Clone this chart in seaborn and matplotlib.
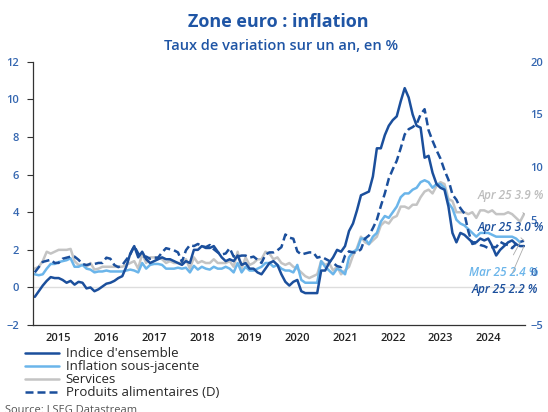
import numpy as np
import pandas as pd
import matplotlib.pyplot as plt
from matplotlib.lines import Line2D
import seaborn as sns

# Données mensuelles, janv. 2015 -> avr. 2025 (glissement annuel, %)
headline = [
    -0.5, -0.2, 0.1, 0.35, 0.55, 0.5, 0.5, 0.4, 0.25, 0.35, 0.15, 0.3,
    0.25, -0.05, 0.0, -0.2, -0.1, 0.05, 0.2, 0.25, 0.35, 0.5, 0.6, 1.1,
    1.8, 2.2, 1.6, 1.9, 1.5, 1.3, 1.4, 1.5, 1.6, 1.5, 1.5, 1.4,
    1.3, 1.2, 1.4, 1.3, 2.0, 2.0, 2.2, 2.1, 2.1, 2.2, 1.9, 1.6,
    1.4, 1.5, 1.4, 1.7, 1.2, 1.3, 1.0, 1.0, 0.8, 0.7, 1.0, 1.3,
    1.4, 1.2, 0.7, 0.3, 0.1, 0.3, 0.4, -0.2, -0.3, -0.3, -0.3, -0.3,
    0.9, 0.9, 1.3, 1.6, 2.0, 1.9, 2.2, 3.0, 3.4, 4.1, 4.9, 5.0,
    5.1, 5.9, 7.4, 7.4, 8.1, 8.6, 8.9, 9.1, 9.9, 10.6, 10.1, 9.2,
    8.6, 8.5, 6.9, 7.0, 6.1, 5.5, 5.3, 5.2, 4.3, 2.9, 2.4, 2.9,
    2.8, 2.6, 2.4, 2.4, 2.6, 2.5, 2.6, 2.2, 1.7, 2.0, 2.2, 2.4,
    2.5, 2.3, 2.2, 2.2,
]
core = [
    0.7, 0.65, 0.7, 1.0, 1.25, 1.25, 1.35, 1.4, 1.45, 1.55, 1.1, 1.1,
    1.2, 1.0, 0.95, 0.8, 0.85, 0.85, 0.9, 0.85, 0.85, 0.85, 0.85, 0.9,
    0.95, 0.9, 0.8, 1.3, 1.0, 1.2, 1.25, 1.25, 1.2, 1.0, 1.0, 1.0,
    1.05, 1.0, 1.05, 0.8, 1.15, 0.95, 1.1, 1.0, 0.95, 1.1, 1.0, 1.0,
    1.1, 1.0, 0.8, 1.3, 0.8, 1.1, 0.9, 0.9, 1.0, 1.1, 1.3, 1.3,
    1.1, 1.2, 1.0, 0.9, 0.9, 0.8, 1.2, 0.4, 0.25, 0.25, 0.25, 0.25,
    1.4, 1.1, 0.9, 0.7, 1.0, 0.9, 0.7, 1.6, 1.9, 2.0, 2.6, 2.6,
    2.3, 2.7, 2.9, 3.5, 3.8, 3.7, 4.0, 4.3, 4.8, 5.0, 5.0, 5.2,
    5.3, 5.6, 5.7, 5.6, 5.3, 5.5, 5.5, 5.3, 4.5, 4.2, 3.6, 3.4,
    3.3, 3.1, 2.9, 2.7, 2.9, 2.9, 2.9, 2.8, 2.7, 2.7, 2.7, 2.7,
    2.7, 2.6, 2.4,
]
services = [
    1.0, 1.1, 1.4, 1.9, 1.8, 1.9, 2.0, 2.0, 2.0, 2.05, 1.4, 1.2,
    1.2, 1.1, 1.3, 0.95, 1.0, 1.1, 1.1, 1.1, 1.1, 1.1, 1.1, 1.2,
    1.3, 1.4, 1.0, 1.8, 1.3, 1.6, 1.6, 1.6, 1.5, 1.3, 1.4, 1.3,
    1.3, 1.3, 1.5, 1.0, 1.6, 1.3, 1.4, 1.3, 1.3, 1.5, 1.3, 1.3,
    1.3, 1.4, 1.1, 1.9, 1.0, 1.6, 1.2, 1.3, 1.5, 1.5, 1.9, 1.8,
    1.5, 1.6, 1.3, 1.2, 1.3, 1.1, 1.0, 0.8, 0.6, 0.5, 0.6, 0.7,
    1.4, 1.2, 1.3, 0.9, 1.1, 0.7, 0.9, 1.1, 1.7, 2.1, 2.7, 2.4,
    2.3, 2.5, 2.7, 3.3, 3.5, 3.4, 3.7, 3.8, 4.3, 4.3, 4.2, 4.4,
    4.4, 4.8, 5.1, 5.2, 5.0, 5.4, 5.6, 5.5, 4.7, 4.6, 4.0, 4.0,
    4.0, 3.9, 4.0, 3.7, 4.1, 4.1, 4.0, 4.1, 3.9, 3.9, 3.9, 4.0,
    3.9, 3.7, 3.5, 3.9,
]
food = [
    0.0, 0.5, 1.0, 1.1, 1.2, 0.9, 0.9, 1.3, 1.4, 1.5, 1.5, 1.2,
    0.8, 0.7, 0.8, 0.8, 0.9, 0.9, 1.4, 1.3, 0.7, 0.5, 0.7, 1.2,
    1.7, 2.5, 1.8, 1.5, 1.5, 1.3, 1.4, 1.4, 1.9, 2.3, 2.2, 2.1,
    1.9, 1.0, 2.1, 2.6, 2.5, 2.7, 2.5, 2.4, 2.6, 2.2, 1.9, 1.7,
    1.8, 2.3, 1.5, 1.5, 1.6, 1.6, 1.4, 1.5, 1.2, 0.9, 1.7, 1.9,
    1.9, 2.1, 2.4, 3.6, 3.3, 3.2, 2.0, 1.7, 1.8, 1.9, 1.9, 1.4,
    1.5, 1.3, 1.1, 0.9, 0.6, 0.5, 1.6, 2.0, 1.9, 1.9, 2.2, 3.2,
    3.5, 4.2, 5.0, 6.3, 7.5, 8.9, 9.8, 10.6, 11.8, 13.1, 13.6, 13.8,
    14.1, 15.0, 15.5, 13.5, 12.5, 11.6, 10.8, 9.7, 8.8, 7.4, 6.9, 6.1,
    5.6, 3.9, 2.7, 2.8, 2.6, 2.5, 2.3, 2.4, 2.4, 2.9, 2.7, 2.6,
    2.3, 2.7, 2.9, 3.0,
]
years = list(range(2015, 2025))

def frame(values):
    t = 2015 + np.arange(len(values)) / 12
    return pd.DataFrame({'t': t, 'v': values})

dark = '#1B4F9C'
light = '#6BB5EA'
grey = '#C4C4C4'
label_blue = '#3466B0'

sns.set_style('white')
plt.rcParams['font.family'] = ['Open Sans', 'DejaVu Sans']

fig = plt.figure(figsize=(5.48, 4.12), dpi=100)
ax = fig.add_axes([0.060, 0.211, 0.898, 0.639])
ax2 = ax.twinx()

ax.axhline(0, color='#DDDDDD', lw=1.0, zorder=0)
sns.lineplot(data=frame(services), x='t', y='v', ax=ax, color=grey, lw=1.8)
sns.lineplot(data=frame(core), x='t', y='v', ax=ax, color=light, lw=1.8)
sns.lineplot(data=frame(headline), x='t', y='v', ax=ax, color=dark, lw=1.8)
sns.lineplot(data=frame(food), x='t', y='v', ax=ax2, color=dark, lw=1.8,
             linestyle=(0, (3.2, 1.6)))

ax.set_xlim(2014.96, 2025.27)
ax.set_ylim(-2, 12)
ax2.set_ylim(-5, 20)
ax.set_yticks(range(-2, 13, 2))
ax2.set_yticks(range(-5, 21, 5))
ax.set_xlabel('')
ax.set_ylabel('')
ax2.set_ylabel('')

# ticks aux changements d'année, libellés au milieu
ax.set_xticks(range(2015, 2026))
ax.set_xticklabels([])
ax.set_xticks([y + 0.5 for y in years], minor=True)
ax.set_xticklabels([str(y) for y in years], minor=True)
ax.tick_params(axis='x', which='major', length=4, width=0.8, color='#333333', direction='out')
ax.tick_params(axis='x', which='minor', length=0, labelsize=8, labelcolor='#222222', pad=6)
ax.tick_params(axis='y', length=4, width=0.8, color='#333333', labelsize=8,
               labelcolor=label_blue, pad=6)
ax2.tick_params(axis='y', length=0, labelsize=8, labelcolor=label_blue, pad=4)
for lab in ax.get_yticklabels() + ax2.get_yticklabels() + ax.get_xticklabels(minor=True):
    lab.set_fontweight('semibold')

for a in (ax, ax2):
    a.spines['top'].set_visible(False)
    a.spines['right'].set_visible(False)
ax2.spines['left'].set_visible(False)
ax2.spines['bottom'].set_visible(False)
ax.spines['left'].set_color('#333333')
ax.spines['bottom'].set_color('#333333')
ax.spines['left'].set_linewidth(0.9)
ax.spines['bottom'].set_linewidth(0.9)

# étiquettes de fin de série
ann = dict(fontsize=8.5, style='italic', fontweight='semibold', ha='center', va='center',
           xycoords='data', textcoords='figure pixels')
ax.annotate('Apr 25 3.9 %', xy=(2025.25, services[-1]), xytext=(511, 216), color='#BDBDBD',
            arrowprops=dict(arrowstyle='-', color='#AAAAAA', lw=0.6, shrinkA=6, shrinkB=0), **ann)
ax2.annotate('Apr 25 3.0 %', xy=(2025.25, food[-1]), xytext=(511, 184), color=dark,
             arrowprops=dict(arrowstyle='-', color='#AAAAAA', lw=0.6, shrinkA=6, shrinkB=0), **ann)
ax.annotate('Mar 25 2.4 %', xy=(2025.17, core[-1]), xytext=(504, 140), color=light,
            arrowprops=dict(arrowstyle='-', color='#AAAAAA', lw=0.6, shrinkA=6, shrinkB=0), **ann)
ax.annotate('Apr 25 2.2 %', xy=(2025.25, headline[-1]), xytext=(505, 122), color=dark,
            arrowprops=dict(arrowstyle='-', color='#AAAAAA', lw=0.6, shrinkA=6, shrinkB=0), **ann)

handles = [
    Line2D([], [], color=dark, lw=1.8),
    Line2D([], [], color=light, lw=1.8),
    Line2D([], [], color=grey, lw=1.8),
    Line2D([], [], color=dark, lw=1.8, linestyle=(0, (3.2, 1.6))),
]
labels = ["Indice d'ensemble", 'Inflation sous-jacente', 'Services', 'Produits alimentaires (D)']
fig.legend(handles, labels, loc='upper left', bbox_to_anchor=(0.045, 0.157), frameon=False,
           fontsize=9.5, handlelength=2.6, handletextpad=0.5, labelspacing=0.0,
           borderpad=0, borderaxespad=0)

fig.text(0.508, 0.947, 'Zone euro : inflation', ha='center', va='center', fontsize=13,
         fontweight='bold', color='#1F55A5')
fig.text(0.513, 0.888, 'Taux de variation sur un an, en %', ha='center', va='center',
         fontsize=10.5, fontweight='semibold', color='#1F55A5')
fig.text(0.01, 0.003, 'Source: LSEG Datastream', ha='left', va='center', fontsize=8,
         color='#555555')

fig.savefig('out.png', dpi=100)
